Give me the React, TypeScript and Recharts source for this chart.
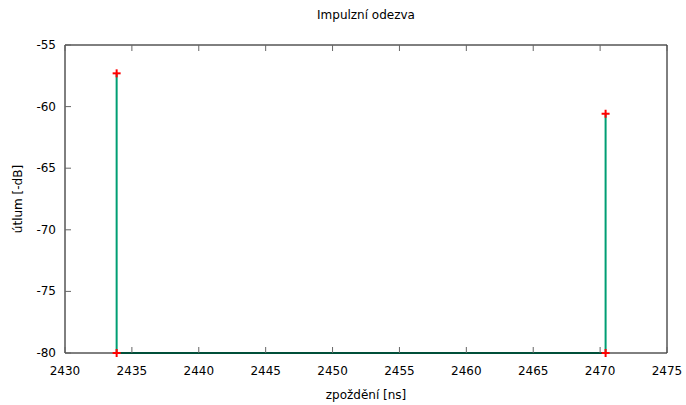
import React from "react";
import { ComposedChart, XAxis, YAxis, Line, Scatter } from "recharts";

const delays = [2433.86, 2470.41];
const attenuation = [-57.3, -60.58];
const floorLevel = -80;
const xTicks = [2430, 2435, 2440, 2445, 2450, 2455, 2460, 2465, 2470, 2475];
const yTicks = [-80, -75, -70, -65, -60, -55];

const title = "Impulzní odezva";
const xLabel = "zpoždění [ns]";
const yLabel = "útlum [-dB]";

const impulsePath = delays.flatMap((x, i) => [
  { x, y: floorLevel },
  { x, y: attenuation[i] },
  { x, y: floorLevel },
]);
const peakMarkers = delays.map((x, i) => ({ x, y: attenuation[i] }));
const floorMarkers = delays.map((x) => ({ x, y: floorLevel }));

const FONT = "'DejaVu Sans', Verdana, sans-serif";
const TICK_COLOR = "#666";

const BottomTick = (props: any) => {
  const { x, y, payload } = props;
  return (
    <g>
      <line x1={x} y1={y} x2={x} y2={y - 6} stroke={TICK_COLOR} strokeWidth={1} />
      <text x={x} y={y + 22} textAnchor="middle" fontSize={12} fontFamily={FONT} fill="#000">
        {payload.value}
      </text>
    </g>
  );
};
const TopTick = (props: any) => {
  const { x, y } = props;
  return <line x1={x} y1={y} x2={x} y2={y + 6} stroke={TICK_COLOR} strokeWidth={1} />;
};
const LeftTick = (props: any) => {
  const { x, y, payload } = props;
  return (
    <g>
      <line x1={x} y1={y} x2={x + 6} y2={y} stroke={TICK_COLOR} strokeWidth={1} />
      <text x={x - 9} y={y + 4} textAnchor="end" fontSize={12} fontFamily={FONT} fill="#000">
        {payload.value}
      </text>
    </g>
  );
};
const RightTick = (props: any) => {
  const { x, y } = props;
  return <line x1={x} y1={y} x2={x - 6} y2={y} stroke={TICK_COLOR} strokeWidth={1} />;
};

const Plus = (props: any) => {
  const { cx, cy } = props;
  if (cx == null || cy == null) return <g />;
  return (
    <g key={props.key ?? `${cx}-${cy}`}>
      <line x1={cx - 4} y1={cy} x2={cx + 4} y2={cy} stroke="#ff0000" strokeWidth={2} />
      <line x1={cx} y1={cy - 4} x2={cx} y2={cy + 4} stroke="#ff0000" strokeWidth={2} />
    </g>
  );
};

export default function App() {
  return (
    <div style={{ position: "absolute", left: 0, top: 0, width: 686, height: 405, background: "#fff" }}>
      <svg width={686} height={405} style={{ position: "absolute", left: 0, top: 0, pointerEvents: "none" }}>
        <text x={366} y={19} textAnchor="middle" fontSize={12} fontFamily={FONT} fill="#000">
          {title}
        </text>
        <text x={366} y={399} textAnchor="middle" fontSize={12} fontFamily={FONT} fill="#000">
          {xLabel}
        </text>
        <text
          x={0}
          y={0}
          transform="translate(22,199) rotate(-90)"
          textAnchor="middle"
          fontSize={12}
          fontFamily={FONT}
          fill="#000"
        >
          {yLabel}
        </text>
      </svg>
      <ComposedChart
        width={686}
        height={405}
        margin={{ top: 44, right: 18, bottom: 22, left: 0 }}
        style={{ position: "absolute", left: 0, top: 0 }}
      >
        <XAxis
          xAxisId="bottom"
          dataKey="x"
          type="number"
          domain={[2430, 2475]}
          ticks={xTicks}
          orientation="bottom"
          height={30}
          tickLine={false}
          tickSize={0}
          tickMargin={0}
          tick={<BottomTick />}
          axisLine={{ stroke: "#000", strokeWidth: 1 }}
          allowDataOverflow
        />
        <XAxis
          xAxisId="top"
          dataKey="x"
          type="number"
          domain={[2430, 2475]}
          ticks={xTicks}
          orientation="top"
          height={1}
          tickLine={false}
          tickSize={0}
          tickMargin={0}
          tick={<TopTick />}
          axisLine={{ stroke: "#000", strokeWidth: 1 }}
          allowDataOverflow
        />
        <YAxis
          yAxisId="left"
          dataKey="y"
          type="number"
          domain={[-80, -55]}
          ticks={yTicks}
          orientation="left"
          width={65}
          tickLine={false}
          tickSize={0}
          tickMargin={0}
          tick={<LeftTick />}
          axisLine={{ stroke: "#000", strokeWidth: 1 }}
        />
        <YAxis
          yAxisId="right"
          dataKey="y"
          type="number"
          domain={[-80, -55]}
          ticks={yTicks}
          orientation="right"
          width={1}
          tickLine={false}
          tickSize={0}
          tickMargin={0}
          tick={<RightTick />}
          axisLine={{ stroke: "#000", strokeWidth: 1 }}
        />
        <Line
          xAxisId="bottom"
          yAxisId="left"
          data={floorMarkers}
          dataKey="y"
          type="linear"
          stroke="none"
          dot={<Plus />}
          activeDot={false}
          isAnimationActive={false}
        />
        <Line
          xAxisId="bottom"
          yAxisId="left"
          data={impulsePath}
          dataKey="y"
          type="linear"
          stroke="#009e73"
          strokeWidth={2}
          dot={false}
          activeDot={false}
          isAnimationActive={false}
        />
        <Scatter
          xAxisId="bottom"
          yAxisId="left"
          data={peakMarkers}
          dataKey="y"
          shape={<Plus />}
          isAnimationActive={false}
        />
      </ComposedChart>
    </div>
  );
}
